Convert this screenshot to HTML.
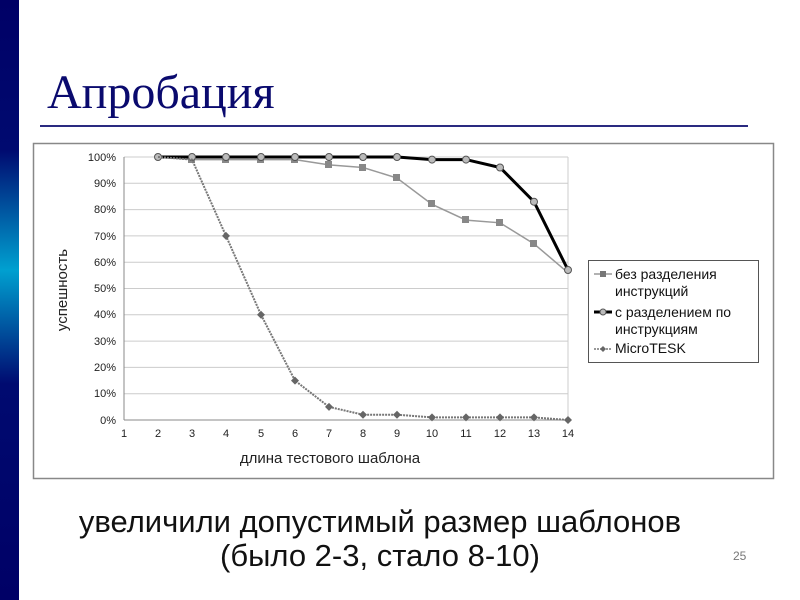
<!DOCTYPE html>
<html><head><meta charset="utf-8"><style>
body{margin:0;width:800px;height:600px;overflow:hidden;background:#fff;position:relative;font-family:"Liberation Sans",sans-serif}
#bar{position:absolute;left:0;top:0;width:19px;height:600px;background:linear-gradient(#000066 0%,#000a70 25%,#00a0d0 45%,#000a70 64%,#000066 100%)}
#title{position:absolute;left:47px;top:65px;font-family:"Liberation Serif",serif;font-size:48px;color:#0a0a6e}
#rule{position:absolute;left:40px;top:125px;width:708px;height:2px;background:#2a2a80}
.t{position:absolute;left:0;width:760px;text-align:center;font-size:31px;color:#111;line-height:36px}
</style></head><body>
<div id="bar"></div>
<div id="title">Апробация</div>
<div id="rule"></div>
<svg style="position:absolute;left:0;top:0" width="800" height="600" font-family="Liberation Sans, sans-serif">
<rect x="33.5" y="143.5" width="740" height="335" fill="#fff" stroke="#888" stroke-width="1.5"/>
<g stroke="#ccc" stroke-width="1">
<line x1="124" y1="157" x2="568" y2="157"/><line x1="124" y1="183.3" x2="568" y2="183.3"/>
<line x1="124" y1="209.6" x2="568" y2="209.6"/><line x1="124" y1="235.9" x2="568" y2="235.9"/>
<line x1="124" y1="262.2" x2="568" y2="262.2"/><line x1="124" y1="288.5" x2="568" y2="288.5"/>
<line x1="124" y1="314.8" x2="568" y2="314.8"/><line x1="124" y1="341.1" x2="568" y2="341.1"/>
<line x1="124" y1="367.4" x2="568" y2="367.4"/><line x1="124" y1="393.7" x2="568" y2="393.7"/>
<line x1="568" y1="157" x2="568" y2="420"/>
</g>
<line x1="124" y1="157" x2="124" y2="420" stroke="#888"/>
<line x1="124" y1="420" x2="568" y2="420" stroke="#888"/>
<g font-size="11" fill="#222" text-anchor="end">
<text x="116" y="161">100%</text><text x="116" y="187">90%</text><text x="116" y="213">80%</text>
<text x="116" y="240">70%</text><text x="116" y="266">60%</text><text x="116" y="292">50%</text>
<text x="116" y="318">40%</text><text x="116" y="345">30%</text><text x="116" y="371">20%</text>
<text x="116" y="397">10%</text><text x="116" y="424">0%</text>
</g>
<g font-size="11" fill="#222" text-anchor="middle">
<text x="124" y="437">1</text><text x="158" y="437">2</text><text x="192" y="437">3</text><text x="226" y="437">4</text>
<text x="261" y="437">5</text><text x="295" y="437">6</text><text x="329" y="437">7</text><text x="363" y="437">8</text>
<text x="397" y="437">9</text><text x="432" y="437">10</text><text x="466" y="437">11</text><text x="500" y="437">12</text>
<text x="534" y="437">13</text><text x="568" y="437">14</text>
</g>
<text x="330" y="463" font-size="15" fill="#222" text-anchor="middle">длина тестового шаблона</text>
<text transform="translate(67,290) rotate(-90)" font-size="15" fill="#222" text-anchor="middle">успешность</text>
<polyline fill="none" stroke="#999" stroke-width="1.5" points="158,157 192,159.6 226,159.6 261,159.6 295,159.6 329,164.9 363,167.5 397,178 432,204.3 466,220.1 500,222.8 534,243.8 568,272.7"/>
<g fill="#888">
<rect x="188" y="156" width="7" height="7"/><rect x="222" y="156" width="7" height="7"/><rect x="257" y="156" width="7" height="7"/><rect x="291" y="156" width="7" height="7"/><rect x="325" y="161" width="7" height="7"/><rect x="359" y="164" width="7" height="7"/><rect x="393" y="174" width="7" height="7"/><rect x="428" y="200" width="7" height="7"/><rect x="462" y="216" width="7" height="7"/><rect x="496" y="219" width="7" height="7"/><rect x="530" y="240" width="7" height="7"/>
</g>
<polyline fill="none" stroke="#000" stroke-width="3" points="158,157 192,157 226,157 261,157 295,157 329,157 363,157 397,157 432,159.6 466,159.6 500,167.5 534,201.7 568,270"/>
<g fill="#bbb" stroke="#555" stroke-width="1">
<circle cx="158" cy="157" r="3.5"/><circle cx="192" cy="157" r="3.5"/><circle cx="226" cy="157" r="3.5"/><circle cx="261" cy="157" r="3.5"/><circle cx="295" cy="157" r="3.5"/><circle cx="329" cy="157" r="3.5"/><circle cx="363" cy="157" r="3.5"/><circle cx="397" cy="157" r="3.5"/><circle cx="432" cy="159.6" r="3.5"/><circle cx="466" cy="159.6" r="3.5"/><circle cx="500" cy="167.5" r="3.5"/><circle cx="534" cy="201.7" r="3.5"/><circle cx="568" cy="270" r="3.5"/>
</g>
<polyline fill="none" stroke="#777" stroke-width="2" stroke-dasharray="2,1" points="158,157 192,159.6 226,235.9 261,314.8 295,380.6 329,406.9 363,414.7 397,414.7 432,417.4 466,417.4 500,417.4 534,417.4 568,420"/>
<g fill="#666">
<path d="M226 231.9l4 4-4 4-4-4z"/><path d="M261 310.8l4 4-4 4-4-4z"/><path d="M295 376.6l4 4-4 4-4-4z"/><path d="M329 402.9l4 4-4 4-4-4z"/><path d="M363 410.7l4 4-4 4-4-4z"/><path d="M397 410.7l4 4-4 4-4-4z"/><path d="M432 413.4l4 4-4 4-4-4z"/><path d="M466 413.4l4 4-4 4-4-4z"/><path d="M500 413.4l4 4-4 4-4-4z"/><path d="M534 413.4l4 4-4 4-4-4z"/><path d="M568 416l4 4-4 4-4-4z"/>
</g>
<rect x="588.5" y="260.5" width="170" height="102" fill="#fff" stroke="#555"/>
<g font-size="14" fill="#111">
<text x="615" y="279">без разделения</text><text x="615" y="296">инструкций</text>
<text x="615" y="317">с разделением по</text><text x="615" y="334">инструкциям</text>
<text x="615" y="353">MicroTESK</text>
</g>
<line x1="594" y1="274" x2="612" y2="274" stroke="#999" stroke-width="1.5"/><rect x="600" y="271" width="6" height="6" fill="#777"/>
<line x1="594" y1="312" x2="612" y2="312" stroke="#000" stroke-width="3"/><circle cx="603" cy="312" r="3" fill="#bbb" stroke="#555"/>
<line x1="594" y1="349" x2="612" y2="349" stroke="#777" stroke-width="1.5" stroke-dasharray="2,1"/><path d="M603 346l3 3-3 3-3-3z" fill="#666"/>
</svg>
<div class="t" style="top:504px">увеличили допустимый размер шаблонов</div>
<div class="t" style="top:538px">(было 2-3, стало 8-10)</div>
<div style="position:absolute;left:733px;top:549px;font-size:12px;color:#777">25</div>
</body></html>
